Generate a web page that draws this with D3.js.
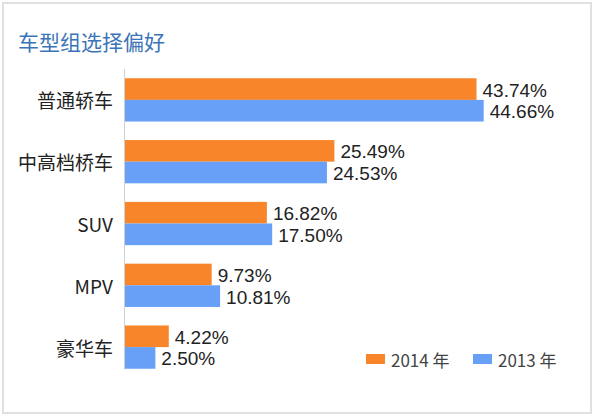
<!DOCTYPE html>
<html>
<head>
<meta charset="utf-8">
<script src="https://cdn.jsdelivr.net/npm/d3@7"></script>
<style>
  body { margin: 0; background: #fff; }
</style>
</head>
<body>
<div id="vis"></div>
<script>
// chart data
var categories = ["普通轿车", "中高档桥车", "SUV", "MPV", "豪华车"];
var values2014 = [43.74, 25.49, 16.82, 9.73, 4.22];
var values2013 = [44.66, 24.53, 17.50, 10.81, 2.50];
var seriesNames = ["2014 年", "2013 年"];
var seriesColors = ["#F8852A", "#67A0F6"];

var width = 596, height = 418;

var svg = d3.select("#vis")
  .append("svg")
    .attr("width", width)
    .attr("height", height);

// outer frame
svg.append("rect")
  .attr("x", 3).attr("y", 3)
  .attr("width", 588).attr("height", 410)
  .attr("fill", "#fff")
  .attr("stroke", "#e0e0e0")
  .attr("stroke-width", 2);

svg.append("text")
  .attr("x", 18)
  .attr("y", 50)
  .attr("font-family", "'Noto Sans CJK SC', sans-serif")
  .attr("font-size", 21)
  .attr("fill", "#3C74B8")
  .text("车型组选择偏好");

// scales
var x = d3.scaleLinear()
  .domain([-1.4, 44.7])
  .range([125, 484]);

var y = d3.scaleBand()
  .domain(categories)
  .range([69, 378])
  .paddingInner(0.3)
  .paddingOuter(0.15);

var ySub = d3.scaleBand()
  .domain([0, 1])
  .range([0, y.bandwidth()]);

var rows = categories.map(function(c, i) {
  return { cat: c, vals: [values2014[i], values2013[i]] };
});

var groups = svg.selectAll(".grp")
  .data(rows)
  .enter()
  .append("g")
    .attr("class", "grp")
    .attr("transform", function(d) { return "translate(0," + y(d.cat) + ")"; });

groups.selectAll("rect")
  .data(function(d) { return d.vals; })
  .enter()
  .append("rect")
    .attr("x", x.range()[0])
    .attr("y", function(d, i) { return ySub(i); })
    .attr("width", function(d) { return x(d) - x.range()[0]; })
    .attr("height", ySub.bandwidth())
    .attr("fill", function(d, i) { return seriesColors[i]; });

groups.selectAll(".val")
  .data(function(d) { return d.vals; })
  .enter()
  .append("text")
    .attr("class", "val")
    .attr("x", function(d) { return x(d) + 6; })
    .attr("y", function(d, i) { return ySub(i) + ySub.bandwidth() / 2 + 1; })
    .attr("dominant-baseline", "central")
    .attr("font-family", "'Liberation Sans', Arial, sans-serif")
    .attr("font-size", 19)
    .attr("fill", "#222")
    .text(function(d) { return d.toFixed(2) + "%"; });

// category labels
svg.selectAll(".cat")
  .data(categories)
  .enter()
  .append("text")
    .attr("class", "cat")
    .attr("x", 113)
    .attr("y", function(d) { return y(d) + y.bandwidth() / 2; })
    .attr("text-anchor", "end")
    .attr("dominant-baseline", "central")
    .attr("font-family", "'Noto Sans CJK SC', sans-serif")
    .attr("font-size", 19)
    .attr("fill", "#222")
    .text(function(d) { return d; });

// axis line
var last = categories[categories.length - 1];
svg.append("line")
  .attr("x1", x.range()[0] - 0.5).attr("x2", x.range()[0] - 0.5)
  .attr("y1", y.range()[0])
  .attr("y2", y(last) + y.bandwidth() + 1)
  .attr("stroke", "#d0d0d0")
  .attr("stroke-width", 1);

// legend
var legendX = [366, 473];
var legend = svg.selectAll(".leg")
  .data(seriesNames)
  .enter()
  .append("g")
    .attr("class", "leg")
    .attr("transform", function(d, i) { return "translate(" + legendX[i] + ",354)"; });

legend.append("rect")
  .attr("width", 19).attr("height", 10)
  .attr("fill", function(d, i) { return seriesColors[i]; });

legend.append("text")
  .attr("x", 25)
  .attr("y", 5.5)
  .attr("dominant-baseline", "central")
  .attr("font-family", "'Noto Sans CJK SC', sans-serif")
  .attr("font-size", 17)
  .attr("fill", "#444")
  .text(function(d) { return d; });
</script>
</body>
</html>
